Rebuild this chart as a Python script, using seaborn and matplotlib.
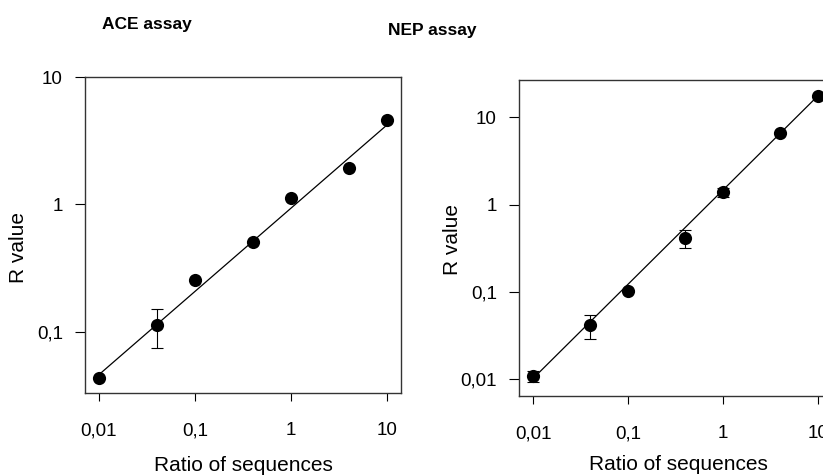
import matplotlib
matplotlib.use("Agg")
import matplotlib.pyplot as plt
from matplotlib import font_manager
import seaborn as sns
import pandas as pd

# ---- data ----
ratio = [0.01, 0.04, 0.1, 0.4, 1.0, 4.0, 10.0]

ace_r = [0.043, 0.113, 0.255, 0.51, 1.13, 1.93, 4.56]
ace_lo = [0.043, 0.0745, 0.255, 0.51, 1.13, 1.93, 4.56]
ace_hi = [0.043, 0.151, 0.255, 0.51, 1.13, 1.93, 4.56]
ace_fit_x = [0.01, 10.0]
ace_fit_y = [0.046, 4.2]

nep_r = [0.0109, 0.0415, 0.102, 0.416, 1.40, 6.55, 17.7]
nep_lo = [0.0093, 0.0284, 0.102, 0.314, 1.23, 6.55, 17.7]
nep_hi = [0.0125, 0.054, 0.102, 0.51, 1.55, 6.55, 17.7]
nep_fit_x = [0.01, 10.0]
nep_fit_y = [0.0102, 17.5]

x_ticks = [0.01, 0.1, 1, 10]
x_labels = ["0,01", "0,1", "1", "10"]
ace_y_ticks = [0.1, 1, 10]
ace_y_labels = ["0,1", "1", "10"]
nep_y_ticks = [0.01, 0.1, 1, 10]
nep_y_labels = ["0,01", "0,1", "1", "10"]

titles = ["ACE assay", "NEP assay"]
xlabel = "Ratio of sequences"
ylabel = "R value"

sns.set_style("white")
plt.rcParams["font.family"] = ["Liberation Sans", "DejaVu Sans"]
plt.rcParams["text.color"] = "black"
plt.rcParams["axes.labelcolor"] = "black"
plt.rcParams["xtick.color"] = "black"
plt.rcParams["ytick.color"] = "black"


def has_font(name):
    try:
        font_manager.findfont(font_manager.FontProperties(family=name),
                              fallback_to_default=False)
        return True
    except Exception:
        return False


title_family = ["Liberation Sans Narrow"] if has_font("Liberation Sans Narrow") else ["Liberation Sans", "DejaVu Sans"]
title_size = 14 if title_family[0] == "Liberation Sans Narrow" else 12.5

fig = plt.figure(figsize=(8.23, 4.76), dpi=100)
ax1 = fig.add_axes([0.1033, 0.1744, 0.3839, 0.6638])
ax2 = fig.add_axes([0.6306, 0.168, 0.3804, 0.664])


def panel(ax, r, lo, hi, fx, fy, yticks, ylabels, xlim, ylim, xlab_pos, ylab_pos):
    df = pd.DataFrame({"ratio": ratio, "r": r})
    fit = pd.DataFrame({"x": fx, "y": fy})
    ax.set_xscale("log")
    ax.set_yscale("log")
    sns.lineplot(data=fit, x="x", y="y", ax=ax, color="black", lw=0.9, zorder=2)
    yerr = [[a - b for a, b in zip(r, lo)], [b - a for a, b in zip(r, hi)]]
    ax.errorbar(ratio, r, yerr=yerr, fmt="none", ecolor="black", elinewidth=0.8,
                capsize=4.3, capthick=0.8, zorder=2)
    sns.scatterplot(data=df, x="ratio", y="r", ax=ax, color="black", s=90,
                    edgecolor="black", linewidth=0, zorder=3, clip_on=False)
    ax.set_xlim(*xlim)
    ax.set_ylim(*ylim)
    ax.set_xticks(x_ticks, x_labels)
    ax.set_yticks(yticks, ylabels)
    ax.minorticks_off()
    ax.tick_params(axis="x", direction="out", length=6, width=0.8, pad=15,
                   labelsize=13.5, colors="black", bottom=True)
    ax.tick_params(axis="y", direction="out", length=7, width=0.8, pad=9,
                   labelsize=13.5, colors="black", left=True)
    for s in ax.spines.values():
        s.set_color("#333333")
        s.set_linewidth(1.0)
        s.set_visible(True)
    ax.set_xlabel(xlabel, fontsize=15, va="center")
    ax.set_ylabel(ylabel, fontsize=15, va="center")
    ax.xaxis.set_label_coords(*xlab_pos)
    ax.yaxis.set_label_coords(*ylab_pos)


panel(ax1, ace_r, ace_lo, ace_hi, ace_fit_x, ace_fit_y, ace_y_ticks, ace_y_labels,
      (0.00715, 14.0), (0.033, 10.0), (0.5, -0.231), (-0.212, 0.462))
panel(ax2, nep_r, nep_lo, nep_hi, nep_fit_x, nep_fit_y, nep_y_ticks, nep_y_labels,
      (0.00706, 14.2), (0.00638, 26.8), (0.508, -0.218), (-0.211, 0.494))

fig.text(147 / 823, 1 - 25 / 476, titles[0], ha="center", va="center",
         fontsize=title_size, fontweight="bold", family=title_family)
fig.text(432 / 823, 1 - 30 / 476, titles[1], ha="center", va="center",
         fontsize=title_size, fontweight="bold", family=title_family)

fig.savefig("out.png", dpi=100)
